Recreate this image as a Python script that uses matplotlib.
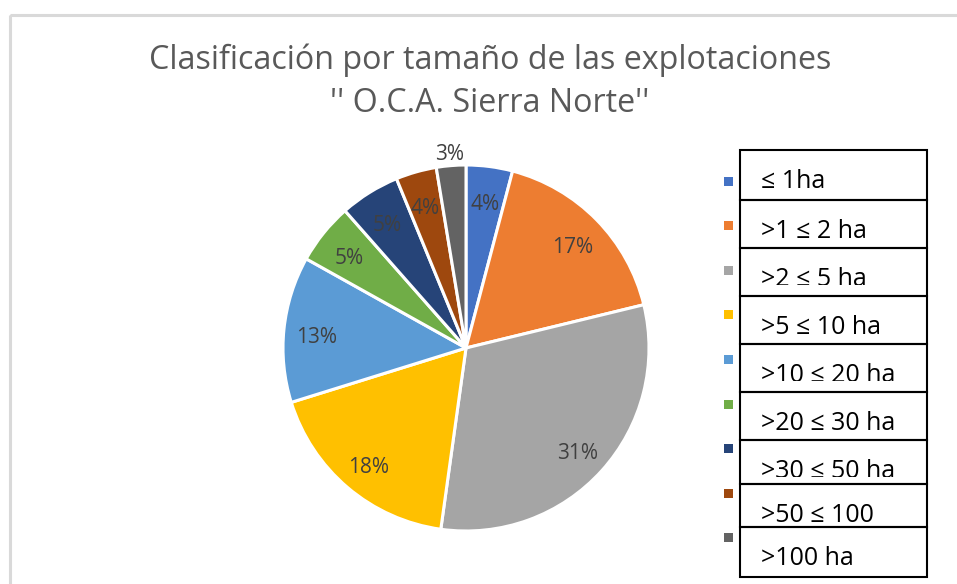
import matplotlib
matplotlib.use("Agg")
import matplotlib.pyplot as plt
import numpy as np
from matplotlib.patches import Rectangle
from matplotlib.transforms import Bbox

plt.rcParams["font.family"] = ["Open Sans", "DejaVu Sans"]

TITLE_LINES = ["Clasificación por tamaño de las explotaciones",
               "'' O.C.A. Sierra Norte''"]
CATEGORIES = [
    "≤ 1ha",
    ">1 ≤ 2 ha",
    ">2 ≤ 5 ha",
    ">5 ≤ 10 ha",
    ">10 ≤ 20 ha",
    ">20 ≤ 30 ha",
    ">30 ≤ 50 ha",
    ">50 ≤ 100",
    ">100 ha",
]
SHARES = [4.1, 17.1, 31.0, 18.0, 12.9, 5.4, 5.3, 3.6, 2.6]
COLORS = [
    "#4472C4", "#ED7D31", "#A5A5A5", "#FFC000", "#5B9BD5",
    "#70AD47", "#264478", "#9E480E", "#636363",
]

W, H = 957, 584
fig = plt.figure(figsize=(W / 100, H / 100), dpi=100)

# full-figure overlay in pixel coordinates for frame, title and legend
ov = fig.add_axes([0, 0, 1, 1])
ov.set_xlim(0, W)
ov.set_ylim(H, 0)
ov.axis("off")
ov.add_patch(Rectangle((9.5, 14.5), W + 20, H + 20, fill=False,
                       edgecolor="#D9D9D9", lw=2.2))
for y, line in zip([60, 104], TITLE_LINES):
    ov.text(490, y, line, ha="center", va="center", fontsize=23.2,
            color="#595959")

# pie
cx, cy, r = 466, 348, 183
ax = fig.add_axes([(cx - r) / W, (H - cy - r) / H, 2 * r / W, 2 * r / H])
wedges, _ = ax.pie(SHARES, colors=COLORS, startangle=90, counterclock=False,
                   wedgeprops=dict(edgecolor="white", linewidth=2.2))
ax.set_xlim(-1, 1)
ax.set_ylim(-1, 1)
ax.set_aspect("auto")

total = sum(SHARES)
start = 90.0
for i, val in enumerate(SHARES):
    mid = np.deg2rad(start - 360 * val / total / 2)
    start -= 360 * val / total
    dist = 1.09 if i == len(SHARES) - 1 else 0.82
    ax.annotate(f"{val:.0f}%", (dist * np.cos(mid), dist * np.sin(mid)),
                xytext=(0, -5), textcoords="offset pixels",
                ha="center", va="center", fontsize=15, color="#404040",
                annotation_clip=False)

# legend: bordered boxes, some labels cut off at the baseline
edges = [150, 200, 248, 296, 344, 392, 440, 484, 527, 577]
clipped = [False, False, True, False, True, False, True, False, False]
for i, (lab, col) in enumerate(zip(CATEGORIES, COLORS)):
    top, bot = edges[i], edges[i + 1]
    ov.add_patch(Rectangle((740, top), 187, bot - top, fill=False,
                           edgecolor="black", lw=1.5, zorder=3))
    my = 181 + i * 44.6
    ov.add_patch(Rectangle((723.5, my - 4.5), 9, 9, color=col, lw=0))
    base = top + 38
    t = ov.text(761, base, lab, ha="left", va="baseline", fontsize=18,
                color="black")
    if clipped[i]:
        t.set_clip_box(Bbox.from_extents(0, H - (base - 1), W, H))
        t.set_clip_on(True)

fig.savefig("out.png", dpi=100)
